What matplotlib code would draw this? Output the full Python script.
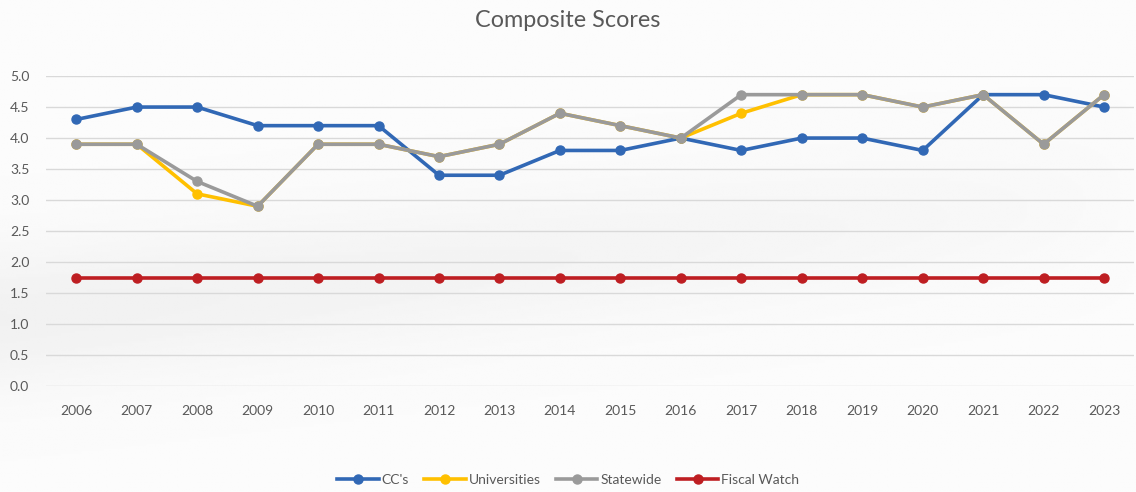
import matplotlib.pyplot as plt
import numpy as np

years = [str(y) for y in range(2006, 2024)]
ccs = [4.3, 4.5, 4.5, 4.2, 4.2, 4.2, 3.4, 3.4, 3.8, 3.8, 4.0, 3.8, 4.0, 4.0, 3.8, 4.7, 4.7, 4.5]
universities = [3.9, 3.9, 3.1, 2.9, 3.9, 3.9, 3.7, 3.9, 4.4, 4.2, 4.0, 4.4, 4.7, 4.7, 4.5, 4.7, 3.9, 4.7]
statewide = [3.9, 3.9, 3.3, 2.9, 3.9, 3.9, 3.7, 3.9, 4.4, 4.2, 4.0, 4.7, 4.7, 4.7, 4.5, 4.7, 3.9, 4.7]
fiscal_watch = [1.75] * 18

plt.rcParams['font.family'] = ['Lato', 'DejaVu Sans']

fig = plt.figure(figsize=(11.36, 4.92), dpi=100)
fig.patch.set_facecolor('#fbfbfb')

# soft background shading
bg = fig.add_axes([0, 0, 1, 1], zorder=-10)
yy, xx = np.mgrid[0:1:200j, 0:1:400j]
shade = 0.985 - 0.04 * np.exp(-((yy - 0.35 - 0.25 * xx) ** 2) / 0.02) * (1 - xx) ** 0.5
shade = np.clip(shade, 0.9, 1)
bg.imshow(shade, cmap='gray', vmin=0, vmax=1, extent=[0, 1, 0, 1], aspect='auto', origin='lower')
bg.axis('off')

ax = fig.add_axes([0.0405, 0.2154, 0.958, 0.630])
ax.patch.set_alpha(0)
x = np.arange(len(years))

series = [
    ("CC's", ccs, '#3168B5'),
    ('Universities', universities, '#FFC000'),
    ('Statewide', statewide, '#9A9A9A'),
    ('Fiscal Watch', fiscal_watch, '#BE1E22'),
]
for name, vals, col in series:
    ax.plot(x, vals, color=col, lw=2.6, marker='o', ms=6.5, label=name)

ax.set_xlim(-0.5, len(years) - 0.5)
ax.set_ylim(0, 5)
ax.set_yticks(np.arange(0, 5.01, 0.5))
ax.set_yticklabels([f'{v:.1f}' for v in np.arange(0, 5.01, 0.5)])
ax.set_xticks(x)
ax.set_xticklabels(years)
ax.tick_params(colors='#595959', labelsize=10, length=0)
ax.tick_params(axis='x', pad=14)
ax.tick_params(axis='y', pad=12)
ax.grid(axis='y', color='#d9d9d9', lw=1)
ax.set_axisbelow(True)
for s in ax.spines.values():
    s.set_visible(False)

fig.text(0.5, 0.958, 'Composite Scores', ha='center', va='center', fontsize=16.8, color='#595959')
fig.legend(loc='center', bbox_to_anchor=(0.5, 0.025), ncol=4, frameon=False,
           fontsize=10, labelcolor='#595959', handlelength=3, columnspacing=1.1, handletextpad=0.2)

fig.savefig('out.png', dpi=100, facecolor=fig.get_facecolor())
